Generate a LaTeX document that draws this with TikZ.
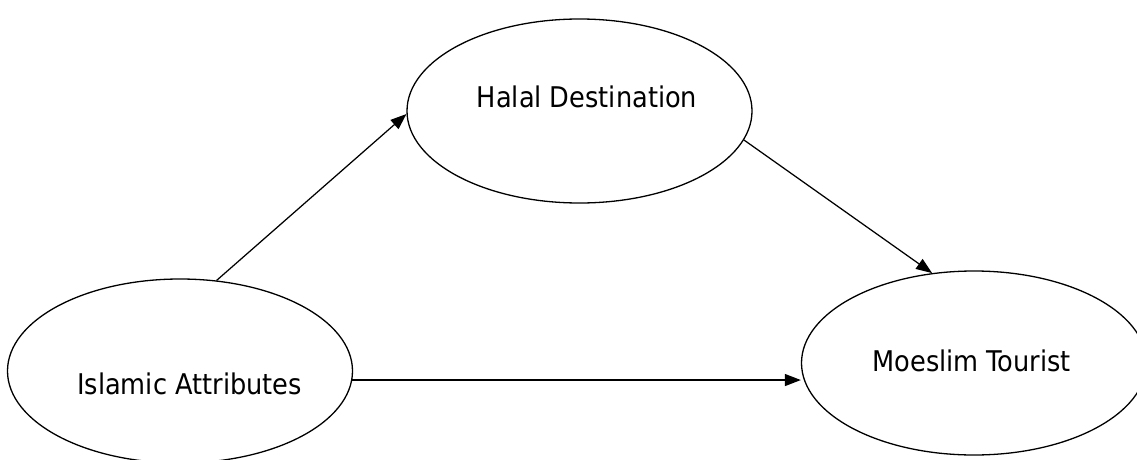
\documentclass[tikz,border=0pt]{standalone}
\usepackage{fontspec}
\setmainfont{DejaVu Sans Condensed}
\usetikzlibrary{shapes.geometric,arrows.meta}
\begin{document}
\begin{tikzpicture}[x=1pt,y=-1pt,
  oval/.style={draw,ellipse,line width=1.3pt,minimum width=345pt,minimum height=184pt,inner sep=0pt},
  lbl/.style={anchor=base,font=\fontsize{28.5}{33}\selectfont,inner sep=0pt},
  arr/.style={line width=1.25pt,-{Triangle[length=16pt,width=12pt]}}]
\useasboundingbox (0,0) rectangle (1137,460);
\node[oval] (isl) at (180,371) {};
\node[oval] (hal) at (579.5,111) {};
\node[oval] (mt) at (974,363) {};
\node[lbl] (islt) at (189.5,394) {Islamic Attributes};
\node[lbl] (halt) at (587,107) {Halal Destination};
\node[lbl] (mtt) at (971.5,371) {Moeslim Tourist};
\draw[arr] (isl.68.6) -- (hal.181.3);
\draw[arr] (hal.-10) -- (mt.115);
\draw[arr] (isl.-3.6) -- (isl.-3.6 -| mt.west);
\end{tikzpicture}
\end{document}
